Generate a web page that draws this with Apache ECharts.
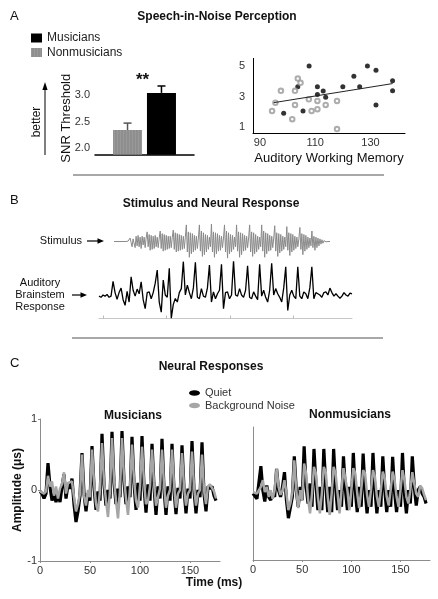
<!DOCTYPE html>
<html><head><meta charset="utf-8">
<script src="https://cdn.jsdelivr.net/npm/echarts@6/dist/echarts.min.js"></script>
<style>html,body{margin:0;padding:0;background:#fff}#c{width:438px;height:599px}</style>
</head><body><div id="c"></div>
<script>
// ---------- Panel A: bar chart ----------
const snrGroups = ['Nonmusicians', 'Musicians'];
const snrMean = [2.34, 3.04];
const snrErr = [0.13, 0.13];

// ---------- Panel A: scatter ----------
const musAWM = [107.8, 103.7, 110.8, 110.8, 112.9, 113.8, 120.0, 124.0, 126.1, 128.9, 132.0, 132.0, 138.0, 138.0, 98.6, 105.6];
const musSNR = [5.0, 3.64, 3.64, 3.14, 3.36, 2.95, 3.64, 4.33, 3.64, 5.0, 4.72, 2.45, 4.03, 3.38, 1.91, 2.06];
const nonAWM = [94.4, 95.6, 97.6, 101.7, 102.7, 102.7, 103.7, 104.7, 107.7, 108.7, 110.8, 110.8, 113.8, 117.9, 117.9];
const nonSNR = [2.06, 2.6, 3.38, 1.52, 2.45, 3.38, 4.18, 3.9, 2.82, 2.06, 2.17, 2.71, 2.45, 2.71, 0.87];
const fitAWM = [95, 138];
const fitSNR = [2.6, 3.85];
const awmTickLabels = [90, 110, 130];
const snrTickLabels = [1, 3, 5];
const barTickLabels = [2.0, 2.5, 3.0];

// ---------- Panel B: waveforms ----------
const stimulus = [
 0,0,0,0,0,0,0,0,0,0,0,0,0,0,0.02,0.05,
 0.2,-0.05,-0.3,0.15,0.1,-0.35,0.3,-0.25,0.35,-0.3,0.25,-0.4,0.3,-0.2,0.25,-0.35,0.2,
 0.55,-0.3,0.4,-0.5,0.35,-0.45,0.3,-0.4,0.35,-0.3,0.25,-0.35,0.2,
 0.6,-0.4,0.45,-0.55,0.4,-0.5,0.35,-0.45,0.3,-0.4,0.3,-0.35,0.25,
 0.65,-0.45,0.5,-0.6,0.45,-0.55,0.4,-0.5,0.35,-0.45,0.3,-0.4,0.25,
 0.95,-0.6,0.55,-0.9,0.5,-0.7,0.45,-0.6,0.35,-0.5,0.3,-0.4,0.2,
 0.95,-0.55,0.6,-0.85,0.5,-0.75,0.4,-0.6,0.35,-0.45,0.25,-0.3,
 1.0,-0.6,0.55,-0.9,0.5,-0.7,0.45,-0.55,0.35,-0.5,0.3,-0.35,0.2,
 0.95,-0.6,0.6,-0.95,0.5,-0.7,0.4,-0.6,0.35,-0.45,0.25,-0.3,
 0.95,-0.55,0.55,-0.9,0.5,-0.75,0.45,-0.55,0.35,-0.5,0.3,-0.35,0.2,
 0.95,-0.6,0.55,-0.85,0.5,-0.7,0.4,-0.6,0.3,-0.45,0.25,-0.3,
 0.95,-0.55,0.6,-0.9,0.5,-0.7,0.45,-0.55,0.35,-0.5,0.3,-0.35,0.2,
 0.9,-0.55,0.5,-0.85,0.45,-0.65,0.4,-0.55,0.3,-0.45,0.25,-0.3,
 0.85,-0.5,0.5,-0.8,0.45,-0.6,0.4,-0.5,0.3,-0.4,0.25,-0.3,0.15,
 0.8,-0.45,0.45,-0.75,0.4,-0.55,0.35,-0.45,0.25,-0.35,0.2,-0.25,
 0.6,-0.35,0.3,-0.5,0.25,-0.35,0.2,-0.25,0.15,-0.15,0.1,-0.1,0.05,
 0.03,-0.02,0.01,0,0,0
];
const abr = [
 -0.05,-0.1,0.0,-0.05,0.02,-0.1,-0.05,0.58,0.1,-0.18,
 0.1,0.29,-0.2,-0.44,0.15,-0.3,0.77,0.2,-0.05,0.25,
 0.05,0.56,-0.2,-0.58,0.1,0.13,-0.16,0.1,0.5,1.06,
 -0.3,-0.73,0.63,0.0,-0.1,1.13,-0.99,-0.4,-0.15,-0.3,
 0.1,0.27,1.42,0.0,0.42,0.1,-0.16,0.3,1.39,-0.1,
 -0.16,0.27,-0.05,-0.1,0.3,1.27,-0.3,0.13,-0.16,0.05,
 0.2,1.3,-0.58,0.1,0.13,-0.16,0.0,1.45,0.0,-0.05,
 0.27,0.0,-0.1,0.2,1.24,-0.1,-0.16,0.13,-0.05,-0.2,
 1.3,-0.05,0.2,-0.1,-0.3,0.2,1.35,0.0,0.27,0.05,
 -0.1,-0.3,0.3,1.2,-0.66,0.0,0.2,-0.05,-0.16,1.2,
 -0.05,-0.16,0.13,0.05,-0.16,0.3,1.2,-0.16,0.1,0.05,
 0.0,-0.1,0.1,0.13,0.0,0.29,0.1,-0.05,0.05,-0.05,
 -0.14,-0.05,0.1,0.0,-0.05,0.08,0.05
];
const abrStartMs = -3.2, abrStepMs = 1.58;
const abrTicksMs = [0, 50, 100, 150];

// ---------- Panel C: neural responses (2 ms steps, 0..176 ms) ----------
const stepMs = 2;
const musQuiet = [
 -0.02,-0.05,-0.12,-0.05,0.38,0.05,-0.15,-0.05,-0.17,-0.05,
 -0.17,0.05,0.22,-0.12,0.08,0.02,0.16,-0.2,-0.45,-0.3,
 -0.08,0.52,-0.05,-0.3,-0.05,-0.15,0.62,0.05,-0.28,-0.02,
 -0.15,0.79,0.08,-0.22,0.0,-0.12,0.82,0.1,-0.2,0.02,
 -0.1,0.83,0.12,-0.2,0.05,-0.1,0.75,0.1,-0.28,0.1,
 -0.15,0.76,0.05,-0.32,0.08,-0.15,0.65,0.05,-0.35,0.05,
 -0.12,0.72,0.02,-0.35,0.05,-0.15,0.65,0.0,-0.34,0.03,
 -0.12,0.63,0.02,-0.33,0.02,-0.12,0.69,0.0,-0.33,0.0,
 -0.1,0.67,-0.05,-0.3,0.05,0.02,0.05,-0.08,-0.15
];
const musNoise = [
 -0.02,0.0,-0.05,-0.02,0.2,0.05,0.12,-0.08,0.05,-0.12,
 0.02,0.08,0.25,-0.05,0.1,0.08,0.12,-0.1,-0.3,-0.2,
 -0.05,0.5,-0.08,-0.22,0.0,-0.1,0.57,0.12,-0.2,-0.3,
 0.0,0.66,0.12,-0.15,-0.38,0.0,0.73,0.15,-0.15,-0.4,
 0.0,0.73,0.18,-0.12,-0.35,0.02,0.64,0.15,-0.15,-0.25,
 0.05,0.61,0.12,-0.2,-0.15,0.05,0.57,0.1,-0.22,-0.1,
 0.02,0.57,0.08,-0.25,-0.08,0.0,0.57,0.08,-0.25,-0.05,
 0.0,0.52,0.05,-0.22,-0.05,0.0,0.54,0.05,-0.22,-0.05,
 0.0,0.5,0.0,-0.2,0.05,0.08,0.06,-0.02,-0.12
];
const nonQuiet = [
 0.0,-0.02,-0.08,-0.05,0.41,0.05,-0.12,0.12,-0.05,-0.1,
 0.0,-0.05,0.37,0.05,-0.05,0.1,0.32,-0.1,-0.37,-0.35,
 -0.05,0.56,0.05,-0.2,0.1,-0.1,0.71,0.1,-0.15,0.15,
 -0.2,0.67,0.15,-0.25,0.1,-0.25,0.67,0.12,-0.28,0.1,
 -0.28,0.67,0.1,-0.25,0.05,-0.2,0.56,0.05,-0.25,0.1,
 -0.2,0.61,0.05,-0.28,0.1,-0.2,0.6,0.05,-0.3,0.05,
 -0.2,0.61,0.05,-0.3,0.05,-0.2,0.56,0.05,-0.28,0.05,
 -0.2,0.55,0.02,-0.28,0.05,-0.2,0.61,0.0,-0.3,0.05,
 -0.15,0.56,0.1,-0.18,0.05,0.1,0.0,-0.05,-0.15
];
const nonNoise = [
 0.02,0.0,0.0,-0.02,0.1,0.2,0.02,0.1,-0.05,0.05,
 -0.08,0.05,0.37,0.1,-0.02,0.05,0.2,0.0,-0.25,-0.15,
 0.02,0.5,0.05,-0.22,0.05,-0.1,0.45,0.3,-0.08,-0.3,
 0.0,0.4,0.3,-0.05,-0.3,0.0,0.4,0.32,-0.05,-0.32,
 0.0,0.4,0.3,0.0,-0.3,0.05,0.38,0.35,0.05,-0.25,
 0.05,0.38,0.3,0.0,-0.22,0.05,0.35,0.3,-0.02,-0.2,
 0.05,0.35,0.25,-0.05,-0.2,0.05,0.33,0.22,-0.05,-0.18,
 0.05,0.33,0.2,-0.05,-0.2,0.05,0.35,0.2,-0.05,-0.15,
 0.05,0.32,0.15,0.0,-0.05,0.12,0.08,-0.02,-0.1
];

// ---------- build ----------
const F = '"Liberation Sans", Arial, sans-serif';
const BAR_W = 29;
const near = (v, list) => list.some(t => Math.abs(v - t) < 1e-6);
const pairs = (xs, ys) => xs.map((x, i) => [x, ys[i]]);
const timed = (vals) => vals.map((v, i) => [i * stepMs, v]);
const abrData = abr.map((v, i) => [abrStartMs + i * abrStepMs, v]);
const stimData = stimulus.map((v, i) => [i, v]);

function txt(x, y, text, size, bold, align, extra) {
  return Object.assign({
    type: 'text', x: x, y: y,
    style: { text: text, fill: '#111', font: (bold ? 'bold ' : '') + size + 'px ' + F,
             align: align || 'left', verticalAlign: 'middle', lineHeight: 12 }
  }, extra || {});
}
function seg(x1, y1, x2, y2, color, w) {
  return { type: 'line', shape: { x1, y1, x2, y2 }, style: { stroke: color || '#000', lineWidth: w || 1 } };
}
function head(pts) {
  return { type: 'polygon', shape: { points: pts }, style: { fill: '#000' } };
}

const grids = [
  { left: 95, top: 81.75, width: 99, height: 72.9 },      // bar
  { left: 253, top: 58.4, width: 152, height: 74.8 },     // scatter
  { left: 114, top: 224, width: 216, height: 35 },        // stimulus
  { left: 99, top: 262, width: 253, height: 56.5 },       // ABR
  { left: 40, top: 419, width: 180, height: 142 },        // musicians
  { left: 253, top: 427, width: 177, height: 133 }        // nonmusicians
].map(g => Object.assign({ containLabel: false, outerBoundsMode: 'none' }, g));

const grayAxis = { onZero: false, lineStyle: { color: '#8c8c8c', width: 1 } };
const lab = { fontSize: 11, color: '#333', fontFamily: F };

const option = {
  animation: false,
  backgroundColor: '#fff',
  textStyle: { fontFamily: F },
  grid: grids,
  legend: [
    { data: ['Musicians', 'Nonmusicians'], left: 31, top: 32, padding: 0, orient: 'vertical', icon: 'rect',
      itemWidth: 11, itemHeight: 9, itemGap: 2.5, textStyle: { fontSize: 12, color: '#222', fontFamily: F } },
    { data: ['Quiet', 'Background Noise'], left: 189, top: 387.5, padding: 0, orient: 'vertical',
      icon: 'path://M0,5 A10,5 0 1,0 20,5 A10,5 0 1,0 0,5 Z',
      itemWidth: 11, itemHeight: 6, itemGap: 1.5, textStyle: { fontSize: 11, color: '#333', fontFamily: F } }
  ],
  xAxis: [
    { gridIndex: 0, type: 'category', data: ['SNR'], axisLine: { onZero: false, lineStyle: { color: '#000', width: 1.5 } },
      axisTick: { show: false }, axisLabel: { show: false } },
    { gridIndex: 1, type: 'value', min: 87.5, max: 142.5, interval: 2.5, splitLine: { show: false },
      axisLine: { onZero: false, lineStyle: { color: '#000' } }, axisTick: { show: false },
      axisLabel: Object.assign({ formatter: v => near(v, awmTickLabels) ? String(Math.round(v)) : '', margin: 4, showMinLabel: true, showMaxLabel: true }, lab),
      name: 'Auditory Working Memory', nameLocation: 'middle', nameGap: 19,
      nameTextStyle: { fontSize: 13, color: '#111', fontFamily: F } },
    { gridIndex: 2, type: 'value', min: 0, max: stimulus.length - 1, show: false },
    { gridIndex: 3, type: 'value', min: abrStartMs, max: abrStartMs + (abr.length - 1) * abrStepMs,
      splitLine: { show: false }, axisLine: { onZero: false, lineStyle: { color: '#c8c8c8', width: 1 } },
      axisTick: { show: true, inside: true, length: 3, customValues: abrTicksMs, lineStyle: { color: '#bbbbbb' } },
      axisLabel: { show: false } },
    { gridIndex: 4, type: 'value', min: 0, max: 180, interval: 50, splitLine: { show: false },
      axisLine: grayAxis, axisTick: { length: 2, lineStyle: { color: '#8c8c8c' } },
      axisLabel: Object.assign({ margin: 4, showMaxLabel: false }, lab) },
    { gridIndex: 5, type: 'value', min: 0, max: 180, interval: 50, splitLine: { show: false },
      axisLine: grayAxis, axisTick: { length: 2, lineStyle: { color: '#8c8c8c' } },
      axisLabel: Object.assign({ margin: 4, showMaxLabel: false }, lab) }
  ],
  yAxis: [
    { gridIndex: 0, type: 'value', min: 1.875, max: 3.25, interval: 0.125, splitLine: { show: false },
      axisLine: { show: false }, axisTick: { show: false },
      axisLabel: Object.assign({ formatter: v => near(v, barTickLabels) ? v.toFixed(1) : '', margin: 5 }, lab),
      name: 'SNR Threshold', nameLocation: 'middle', nameGap: 22, nameMoveOverlap: false,
      nameTextStyle: { fontSize: 13, color: '#111', fontFamily: F } },
    { gridIndex: 1, type: 'value', min: 0.6, max: 5.5, interval: 0.1, splitLine: { show: false },
      axisLine: { show: true, onZero: false, lineStyle: { color: '#000' } }, axisTick: { show: false },
      axisLabel: Object.assign({ formatter: v => near(v, snrTickLabels) ? String(Math.round(v)) : '', margin: 8 }, lab) },
    { gridIndex: 2, type: 'value', min: -1, max: 1, show: false },
    { gridIndex: 3, type: 'value', min: -1, max: 1.4, show: false },
    { gridIndex: 4, type: 'value', min: -1, max: 1, interval: 1, splitLine: { show: false },
      axisLine: Object.assign({ show: true }, grayAxis), axisTick: { show: true, length: 2, lineStyle: { color: '#8c8c8c' } },
      axisLabel: Object.assign({ margin: 3 }, lab),
      name: 'Amplitude (\u03bcs)', nameLocation: 'middle', nameGap: 16,
      nameTextStyle: { fontSize: 12, fontWeight: 'bold', color: '#111', fontFamily: F } },
    { gridIndex: 5, type: 'value', min: -1, max: 1, interval: 1, splitLine: { show: false },
      axisLine: Object.assign({ show: true }, grayAxis), axisTick: { show: false }, axisLabel: { show: false } }
  ],
  series: [
    { name: 'Nonmusicians', type: 'bar', xAxisIndex: 0, yAxisIndex: 0, data: [snrMean[0]],
      barWidth: BAR_W, barGap: '17%',
      itemStyle: { color: '#8e8e8e', decal: { symbol: 'rect', symbolSize: 1, dashArrayX: [1, 2], dashArrayY: [10, 0], color: 'rgba(255,255,255,0.1)' } } },
    { name: 'Musicians', type: 'bar', xAxisIndex: 0, yAxisIndex: 0, data: [snrMean[1]],
      barWidth: BAR_W, barGap: '17%', itemStyle: { color: '#000' } },
    { name: 'err', type: 'custom', xAxisIndex: 0, yAxisIndex: 0, z: 5,
      data: snrGroups.map((g, i) => [0, snrMean[i], snrErr[i], i]),
      renderItem: (params, api) => {
        const idx = api.value(3);
        const base = api.coord([api.value(0), api.value(1)]);
        const top = api.coord([api.value(0), api.value(1) + api.value(2)]);
        const x = base[0] + (idx === 0 ? -1 : 1) * BAR_W * 1.17 / 2;
        const c = idx === 0 ? '#555' : '#000';
        return { type: 'group', children: [
          { type: 'line', shape: { x1: x, y1: base[1], x2: x, y2: top[1] }, style: { stroke: c, lineWidth: 1.5 } },
          { type: 'line', shape: { x1: x - 4, y1: top[1], x2: x + 4, y2: top[1] }, style: { stroke: c, lineWidth: 1.5 } }
        ] };
      } },
    { name: 'Musicians AWM', type: 'scatter', xAxisIndex: 1, yAxisIndex: 1, data: pairs(musAWM, musSNR),
      symbol: 'circle', symbolSize: 5, itemStyle: { color: '#000' } },
    { name: 'Nonmusicians AWM', type: 'scatter', xAxisIndex: 1, yAxisIndex: 1, data: pairs(nonAWM, nonSNR),
      symbol: 'emptyCircle', symbolSize: 4.5, itemStyle: { color: '#999', borderColor: '#999', borderWidth: 1 } },
    { name: 'fit', type: 'line', xAxisIndex: 1, yAxisIndex: 1, data: pairs(fitAWM, fitSNR),
      symbol: 'none', lineStyle: { color: '#222', width: 1 } },
    { name: 'Stimulus', type: 'line', xAxisIndex: 2, yAxisIndex: 2, data: stimData,
      symbol: 'none', lineStyle: { color: '#8a8a8a', width: 1 } },
    { name: 'ABR', type: 'line', xAxisIndex: 3, yAxisIndex: 3, data: abrData,
      symbol: 'none', lineStyle: { color: '#000', width: 1.3 } },
    { name: 'Quiet', type: 'line', xAxisIndex: 4, yAxisIndex: 4, data: timed(musQuiet),
      symbol: 'none', itemStyle: { color: '#000' }, lineStyle: { color: '#000', width: 3.2 } },
    { name: 'Background Noise', type: 'line', xAxisIndex: 4, yAxisIndex: 4, data: timed(musNoise),
      symbol: 'none', itemStyle: { color: '#a6a6a6' }, lineStyle: { color: '#a6a6a6', width: 2.5 } },
    { name: 'Quiet', type: 'line', xAxisIndex: 5, yAxisIndex: 5, data: timed(nonQuiet),
      symbol: 'none', itemStyle: { color: '#000' }, lineStyle: { color: '#000', width: 3.2 } },
    { name: 'Background Noise', type: 'line', xAxisIndex: 5, yAxisIndex: 5, data: timed(nonNoise),
      symbol: 'none', itemStyle: { color: '#a6a6a6' }, lineStyle: { color: '#a6a6a6', width: 2.5 } }
  ],
  graphic: [
    txt(10, 16, 'A', 13, false),
    txt(217, 17, 'Speech-in-Noise Perception', 12, true, 'center'),
    txt(142.5, 80, '**', 17, true, 'center'),
    txt(37, 122, 'better', 12, false, 'center', { rotation: Math.PI / 2 }),
    seg(45, 155, 45, 88, '#000', 1),
    head([[45, 82], [42.4, 90], [47.6, 90]]),
    seg(73, 175, 384, 175, '#a8a8a8', 2),
    txt(10, 200, 'B', 13, false),
    txt(211, 204, 'Stimulus and Neural Response', 12, true, 'center'),
    txt(82, 241, 'Stimulus', 11, false, 'right'),
    seg(87, 241, 99, 241, '#000', 1.2),
    head([[104, 241], [97.5, 238.3], [97.5, 243.7]]),
    txt(40, 295, 'Auditory\nBrainstem\nResponse', 11, false, 'center'),
    seg(72, 295, 82, 295, '#000', 1.2),
    head([[87, 295], [80.5, 292.3], [80.5, 297.7]]),
    seg(72, 338, 383, 338, '#a8a8a8', 2),
    txt(10, 363, 'C', 13, false),
    txt(211, 367, 'Neural Responses', 12, true, 'center'),
    txt(133, 416, 'Musicians', 12, true, 'center'),
    txt(350, 415, 'Nonmusicians', 12, true, 'center'),
    txt(214, 583, 'Time (ms)', 12, true, 'center')
  ]
};

const chart = echarts.init(document.getElementById('c'), null, { renderer: 'canvas' });
chart.setOption(option);
</script></body></html>
